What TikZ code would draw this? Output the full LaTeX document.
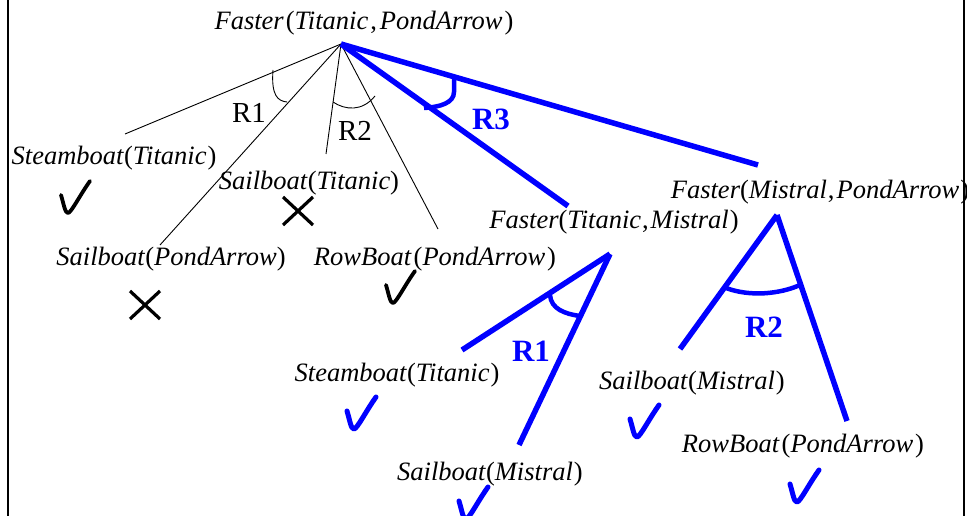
\documentclass[tikz,border=0pt]{standalone}
\usepackage{fontspec}
\setmainfont{Liberation Serif}
\newcommand\lit[1]{\textit{#1}}
\begin{document}
\begin{tikzpicture}[x=1pt,y=-1pt,
  fact/.style={font=\fontsize{26.5}{30}\selectfont, inner sep=0pt, anchor=center},
  rule/.style={font=\fontsize{29}{32}\selectfont, inner sep=0pt},
  brule/.style={font=\fontsize{31}{34}\selectfont\bfseries, text=blue, inner sep=0pt},
  thinedge/.style={line width=0.9pt, black},
  bluedge/.style={line width=5.5pt, blue},
  thinarc/.style={line width=0.9pt, black},
  bluearc/.style={line width=4.5pt, blue},
  frame/.style={line width=2.4pt, black},
  pics/tick/.style={code={
    \draw[line cap=round, line join=round, #1]
      (-7,-18) .. controls (-4,-8) and (-3,0) .. (0,0)
      .. controls (3,0) and (12,-18) .. (22,-32);}},
  pics/cross/.style={code={
    \draw[line width=3.2pt, black] (-15,-14) -- (15,14) (-15,14) -- (15,-14);}}
]
\useasboundingbox (0,0) rectangle (967,516);
\begin{scope}
\clip (0,0) rectangle (967,516);

% side rules
\draw[frame] (8,0) -- (8,516);
\draw[frame] (964,0) -- (964,516);

% facts
\node[fact] (root) at (364,23) {\lit{Faster}\kern2pt(\lit{Titanic}\kern2pt,\kern3pt\lit{PondArrow}\kern2pt)};
\node[fact] (steamA) at (114,158) {\lit{Steamboat}(\lit{Titanic}\kern1pt)};
\node[fact] (sailT) at (309,183) {\lit{Sailboat}(\lit{Titanic})};
\node[fact] (sailP) at (171,259) {\lit{Sailboat}(\lit{PondArrow})};
\node[fact] (rowA) at (435,259) {\lit{RowBoat}\kern2pt(\lit{PondArrow}\kern2pt)};
\node[fact] (fasterTM) at (614,222) {\lit{Faster}(\lit{Titanic}\kern1pt,\kern2pt\lit{Mistral}\kern1pt)};
\node[fact] (fasterMP) at (820,192) {\lit{Faster}(\lit{Mistral}\kern1pt,\kern2pt\lit{PondArrow}\kern1pt)};
\node[fact] (steamB) at (397,375) {\lit{Steamboat}(\lit{Titanic}\kern1pt)};
\node[fact] (sailMA) at (490,474) {\lit{Sailboat}(\lit{Mistral}\kern1pt)};
\node[fact] (sailMB) at (692,383) {\lit{Sailboat}(\lit{Mistral}\kern1pt)};
\node[fact] (rowB) at (803,446) {\lit{RowBoat}\kern2pt(\lit{PondArrow}\kern2pt)};

% end points of the branches
\coordinate (top) at (341,44);
\coordinate (eSteamA) at (125,134);
\coordinate (eSailP) at (160,245);
\coordinate (eSailT) at (326,154);
\coordinate (eRowA) at (438,229);
\coordinate (eTM) at (568,206);
\coordinate (eMP) at (758,165);
\coordinate (topTM) at (610,254);
\coordinate (eSteamB) at (462,350);
\coordinate (eSailMA) at (519,445);
\coordinate (topMP) at (777,215);
\coordinate (eSailMB) at (680,349);
\coordinate (eRowB) at (847,421);

% rule R1 and R2 for the first goal
\draw[thinedge] (top) -- (eSteamA);
\draw[thinedge] (top) -- (eSailP);
\draw[thinedge] (top) -- (eSailT);
\draw[thinedge] (top) -- (eRowA);
\draw[thinarc] (273,70) .. controls (271,96) and (278,101) .. (287,102);
\draw[thinarc] (333,102) .. controls (345,110) and (362,112) .. (375,96);
\node[rule] (r1) at (249,113) {R1};
\node[rule] (r2) at (355,131) {R2};

% rule R3
\draw[bluedge] (top) -- (eTM);
\draw[bluedge] (top) -- (eMP);
\draw[bluearc] (454,78) -- (454,92) .. controls (454,103) and (440,107) .. (424,108);
\node[brule] (r3) at (491,119) {R3};

% R1 under Faster(Titanic, Mistral)
\draw[bluedge] (topTM) -- (eSteamB);
\draw[bluedge] (topTM) -- (eSailMA);
\draw[bluearc] (550,295) .. controls (551,309) and (565,314) .. (580,316);
\node[brule] (r1b) at (531,351) {R1};

% R2 under Faster(Mistral, PondArrow)
\draw[bluedge] (topMP) -- (eSailMB);
\draw[bluedge] (topMP) -- (eRowB);
\draw[bluearc] (726,288) .. controls (750,297) and (780,294) .. (800,285);
\node[brule] (r2b) at (764,327) {R2};

% outcomes
\pic at (68,213) {tick={line width=3.8pt, black}};
\pic at (393,303) {tick={line width=3.8pt, black}};
\pic at (298,211) {cross};
\pic at (145,305) {cross};
\pic at (354,429) {tick={line width=5pt, blue}};
\pic at (466,519) {tick={line width=5pt, blue}};
\pic at (637,437) {tick={line width=5pt, blue}};
\pic at (797,502) {tick={line width=5pt, blue}};
\end{scope}
\end{tikzpicture}
\end{document}
